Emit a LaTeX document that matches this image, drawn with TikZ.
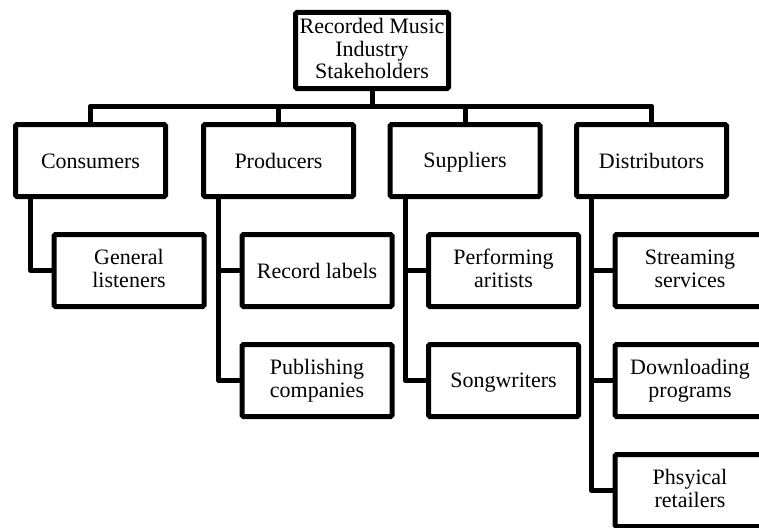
\documentclass[tikz,border=0pt]{standalone}
\usepackage{fontspec}
\setmainfont{Liberation Serif}

\tikzset{
  box/.style={draw, line width=5pt, rounded corners=1.5pt, fill=white, align=center,
    minimum width=150pt, minimum height=72pt, inner sep=1pt,
    font=\fontsize{22}{22.5}\selectfont,
    execute at begin node={\rule{0pt}{19pt}}, execute at end node={\rule[-4pt]{0pt}{4pt}}},
  link/.style={line width=5pt, line join=round}
}

\begin{document}
\begin{tikzpicture}[x=1pt, y=-1pt]
\useasboundingbox (0, 0) rectangle (759, 527);
\clip (0, 0) rectangle (759, 527);

\node[box, minimum width=153pt, minimum height=76pt] (top) at (372, 50.5) {Recorded Music\\Industry\\Stakeholders};

\node[box] (cons) at (90.5, 160.5) {Consumers};
\node[box] (prod) at (278.5, 160.5) {Producers};
\node[box] (supp) at (465, 160.5) {Suppliers};
\node[box] (dist) at (651.5, 160.5) {Distributors};

\node[box] (gen) at (129, 270.5) {General\\listeners};
\node[box] (rec) at (317, 270.5) {Record labels};
\node[box] (pub) at (317, 380.5) {Publishing\\companies};
\node[box] (perf) at (503.5, 270.5) {Performing\\aritists};
\node[box] (song) at (503.5, 380.5) {Songwriters};
\node[box] (stream) at (690, 270.5) {Streaming\\services};
\node[box] (down) at (690, 380.5) {Downloading\\programs};
\node[box] (phys) at (690, 490.5) {Phsyical\\retailers};

\coordinate (bus) at (372, 106);
\draw[link] (top.south) -- (bus);
\draw[link] (cons.north) |- (bus) -| (dist.north);
\draw[link] (prod.north) -- (prod.north |- bus);
\draw[link] (supp.north) -- (supp.north |- bus);

\draw[link] ([xshift=-60pt]cons.south) |- (gen.west);
\draw[link] ([xshift=-60pt]prod.south) |- (pub.west);
\draw[link] ([xshift=-60pt]prod.south |- rec.west) -- (rec.west);
\draw[link] ([xshift=-60pt]supp.south) |- (song.west);
\draw[link] ([xshift=-60pt]supp.south |- perf.west) -- (perf.west);
\draw[link] ([xshift=-60pt]dist.south) |- (phys.west);
\draw[link] ([xshift=-60pt]dist.south |- stream.west) -- (stream.west);
\draw[link] ([xshift=-60pt]dist.south |- down.west) -- (down.west);

\end{tikzpicture}
\end{document}
